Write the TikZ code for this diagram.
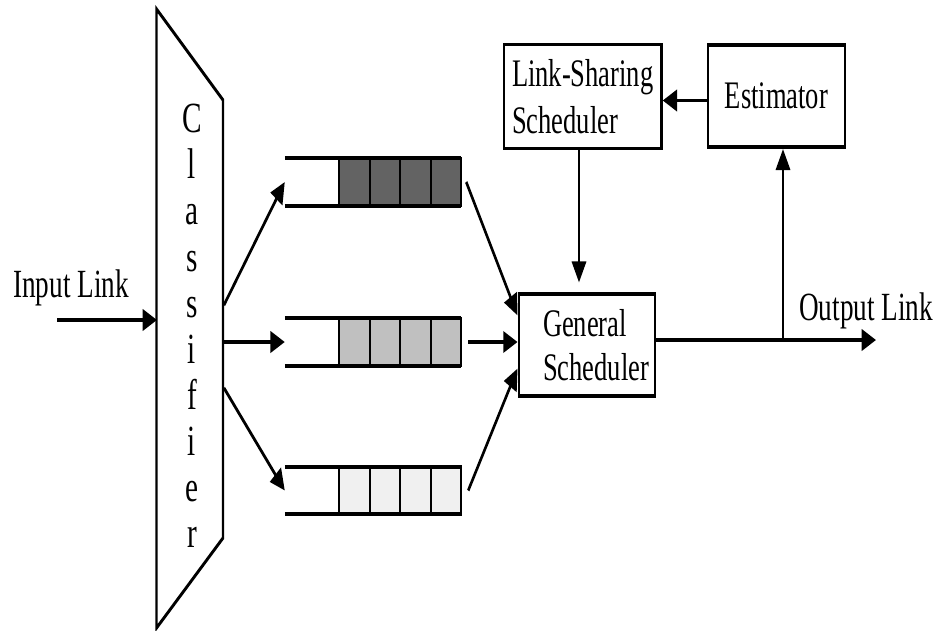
\documentclass[tikz,border=0pt]{standalone}
\usepackage{fontspec}
\setmainfont{Liberation Serif}
\usetikzlibrary{arrows.meta,calc}
\definecolor{cellDark}{RGB}{99,99,99}
\definecolor{cellMid}{RGB}{192,192,192}
\definecolor{cellLight}{RGB}{240,240,240}

\begin{document}
\begin{tikzpicture}[x=1pt,y=-1pt]
\useasboundingbox[fill=white] (0,0) rectangle (937,630);
% everything is drawn on a horizontally condensed canvas
\begin{scope}[transform canvas={xscale=0.68}, x=1.470588pt, y=-1pt,
  line width=3.6pt,
  arr/.style={-{Triangle[length=21pt,width=21pt]}, line width=3.6pt},
  txt/.style={font=\fontsize{40}{44}\selectfont, inner sep=0pt},
  box/.style={draw, line width=3.6pt, inner sep=0pt, font=\fontsize{39}{44}\selectfont},
  queue/.style={minimum width=255.9pt, minimum height=44pt, inner sep=0pt},
  qline/.style={line width=4.2pt},
  cell/.style={draw, line width=3pt}
]

% classifier
\coordinate (cl-tl) at (156.5,9);
\coordinate (cl-tr) at (223,100);
\coordinate (cl-br) at (223,538);
\coordinate (cl-bl) at (156.5,628);
\draw[line join=miter] (cl-tl) -- (cl-tr) -- (cl-br) -- (cl-bl) -- cycle;
\node[font=\fontsize{43}{46.1}\selectfont, align=center, inner sep=0pt] (cls) at (192,326)
  {C\\l\\a\\s\\s\\i\\f\\i\\e\\r};

% input link
\node[txt, anchor=base west] (inlbl) at (12,297) {Input Link};
\coordinate (in-start) at (57,320);
\coordinate (cl-in) at (157,320);
\draw[arr] (in-start) -- (cl-in);

% queues
\node[queue] (q1) at (373,182) {};
\node[queue] (q2) at (373,342) {};
\node[queue] (q3) at (373,490.5) {};
\foreach \q/\c in {q1/cellDark,q2/cellMid,q3/cellLight} {
  \foreach \i in {0,...,3}
    \draw[cell, fill=\c] ($(\q.north east)+(-30.5*\i,0)$) rectangle ($(\q.south east)+(-30.5*\i-30.5,0)$);
  \draw[qline] (\q.north west) -- (\q.north east);
  \draw[qline] (\q.south west) -- (\q.south east);
}

% classifier outputs
\coordinate (cl-o1) at (224,305);
\coordinate (cl-o2) at (224,342);
\coordinate (cl-o3) at (224,388);
\draw[arr] (cl-o1) -- (q1.west);
\draw[arr] (cl-o2) -- (q2.west);
\draw[arr] (cl-o3) -- (q3.west);

% schedulers and estimator
\node[box, minimum width=200.7pt, minimum height=101.5pt, text width=129.4pt, align=left]
  (gs) at (587,345) {\mbox{General}\\\mbox{Scheduler}};
\node[box, minimum width=231.6pt, minimum height=104pt, align=left,
  font=\fontsize{39}{47}\selectfont] (ls) at (582.75,96.5) {Link-Sharing\\Scheduler};
\node[box, minimum width=201.5pt, minimum height=102.5pt] (est) at (776.5,96) {Estimator};

% queues into the general scheduler
\draw[arr] ($(q1.east)+(5,0)$) -- ($(gs.north west)+(0,23)$);
\draw[arr] ($(q2.east)+(7,0)$) -- (q2.east -| gs.west);
\draw[arr] ($(q3.east)+(7,0)$) -- ($(gs.south west)+(0,-29)$);

% estimator to link-sharing scheduler
\coordinate (est-in) at ($(est.west)+(0,4.5)$);
\draw[arr] (est-in) -- (est-in -| ls.east);

% link-sharing scheduler to general scheduler
\coordinate (ls-out) at ($(ls.south)+(-3.75,0)$);
\draw[arr, shorten >=10pt] (ls-out) -- (ls-out |- gs.north);

% output link and feedback to the estimator
\coordinate (gs-out) at ($(gs.east)+(0,-5)$);
\coordinate (tap) at (783,340);
\coordinate (out-end) at (876,340);
\draw[arr] (gs-out) -- (out-end);
\draw[arr] (tap) -- (tap |- est.south);
\node[txt, anchor=base west] (outlbl) at (798,320) {Output Link};
\end{scope}
\end{tikzpicture}
\end{document}
